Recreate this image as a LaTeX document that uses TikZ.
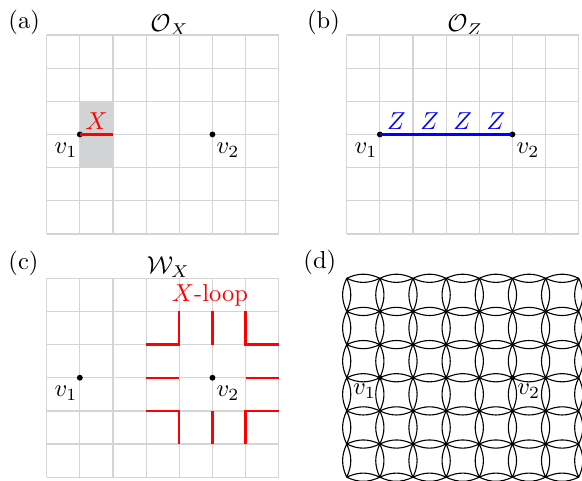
\documentclass[tikz,border=0pt]{standalone}
\usetikzlibrary{calc}
\definecolor{gridgray}{RGB}{212,212,212}
\definecolor{cellgray}{RGB}{210,211,213}
\tikzset{
  gridline/.style={draw=gridgray, line width=0.5pt},
  vdot/.style={circle, fill=black, inner sep=0pt, minimum size=2.4pt},
  sdot/.style={circle, fill=black, inner sep=0pt, minimum size=2pt},
  redline/.style={draw=red, line width=0.95pt},
  blueline/.style={draw=blue, line width=0.95pt},
  lens/.style={draw=black, line width=0.45pt},
  vlabL/.style={anchor=north east, inner sep=0pt, xshift=-0.8pt, yshift=-3.3pt},
  vlabR/.style={anchor=north west, inner sep=0pt, xshift=1.5pt, yshift=-3.3pt},
  ptitle/.style={anchor=base west, inner sep=0pt},
  cellsc/.style={x=13.532pt, y=-13.532pt}
}
\begin{document}
\begin{tikzpicture}[x=0.4082pt,y=-0.4082pt]
\useasboundingbox (0,0) rectangle (582,481);

% ---------- panel (a)
\node[ptitle] (la) at (8,29) {(a)};
\node[ptitle] (ta) at (150,31.5) {$\mathcal{O}_X$};
\begin{scope}[shift={(46.7,35)}, cellsc]
  \fill[cellgray] (1,2) rectangle (2,4);
  \foreach \i in {0,...,7} \draw[gridline] (\i,0) -- (\i,6);
  \foreach \j in {0,...,6} \draw[gridline] (0,\j) -- (7,\j);
  \coordinate (ae) at (2,3);
  \node[vdot] (av1) at (1,3) {};
  \node[vdot] (av2) at (5,3) {};
  \draw[redline] (av1.center) -- (ae);
  \node[red, anchor=base, inner sep=0pt, yshift=2.2pt] (ax) at (1.5,3) {$X$};
  \node[vlabL] (alv1) at (av1) {$v_1$};
  \node[vlabR] (alv2) at (av2) {$v_2$};
\end{scope}

% ---------- panel (b)
\node[ptitle] (lb) at (306.7,29) {(b)};
\node[ptitle] (tb) at (447,31.5) {$\mathcal{O}_Z$};
\begin{scope}[shift={(346.7,35)}, cellsc]
  \foreach \i in {0,...,7} \draw[gridline] (\i,0) -- (\i,6);
  \foreach \j in {0,...,6} \draw[gridline] (0,\j) -- (7,\j);
  \node[vdot] (bv1) at (1,3) {};
  \node[vdot] (bv2) at (5,3) {};
  \draw[blueline] (bv1.center) -- (bv2.center);
  \foreach \k in {1,...,4}
    \node[blue, anchor=base, inner sep=0pt, yshift=2pt] (bz\k) at (\k+0.5,3) {$Z$};
  \node[vlabL] (blv1) at (bv1) {$v_1$};
  \node[vlabR] (blv2) at (bv2) {$v_2$};
\end{scope}

% ---------- panel (c)
\node[ptitle] (lc) at (8,270) {(c)};
\node[ptitle] (tc) at (146.5,273.5) {$\mathcal{W}_X$};
\begin{scope}[shift={(46.7,278.3)}, cellsc]
  \foreach \i in {0,...,7} \draw[gridline] (\i,0) -- (\i,6);
  \foreach \j in {0,...,6} \draw[gridline] (0,\j) -- (7,\j);
  \node[vdot] (cv1) at (1,3) {};
  \node[vdot] (cv2) at (5,3) {};
  \draw[redline] (3,2) -- (4,2) -- (4,1);
  \draw[redline] (5,1) -- (5,2);
  \draw[redline] (6,1) -- (6,2) -- (7,2);
  \draw[redline] (3,3) -- (4,3);
  \draw[redline] (6,3) -- (7,3);
  \draw[redline] (3,4) -- (4,4) -- (4,5);
  \draw[redline] (5,4) -- (5,5);
  \draw[redline] (7,4) -- (6,4) -- (6,5);
  \node[vlabL] (clv1) at (cv1) {$v_1$};
  \node[vlabR] (clv2) at (cv2) {$v_2$};
\end{scope}
\node[red, ptitle] (cloop) at (171.5,302) {$X$-loop};

% ---------- panel (d)
\node[ptitle] (ld) at (303,269) {(d)};
\begin{scope}[shift={(346.7,278.3)}, cellsc]
  \foreach \i in {0,...,6} \foreach \j in {0,...,6}
    \draw[lens] (\i,\j) to[bend left=25] (\i+1,\j)
                (\i,\j) to[bend right=25] (\i+1,\j);
  \foreach \i in {0,...,7} \foreach \j in {0,...,5}
    \draw[lens] (\i,\j) to[bend left=25] (\i,\j+1)
                (\i,\j) to[bend right=25] (\i,\j+1);
  \node[sdot] (dv1) at (1,3) {};
  \node[sdot] (dv2) at (5,3) {};
  \node[anchor=north east, inner sep=0pt, xshift=-1.4pt, yshift=-2.5pt] (dlv1) at (dv1) {$v_1$};
  \node[anchor=north west, inner sep=0pt, xshift=1.8pt, yshift=-2.5pt] (dlv2) at (dv2) {$v_2$};
\end{scope}
\end{tikzpicture}
\end{document}
